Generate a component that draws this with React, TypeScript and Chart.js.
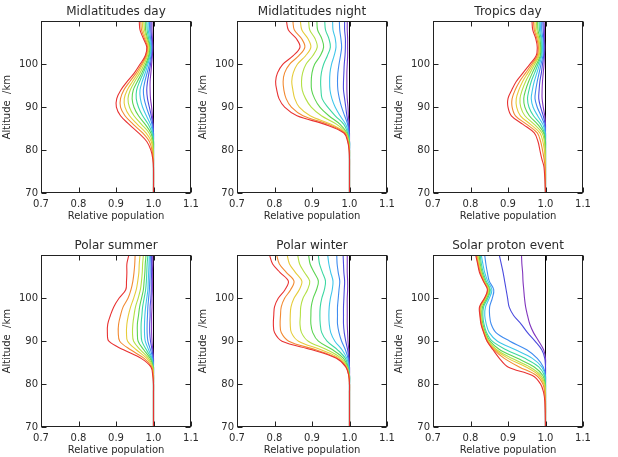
import React, { useEffect, useRef } from "react";
import { Chart, registerables } from "chart.js";

Chart.register(...registerables);

// ---------------- data ----------------
const ALTITUDES = [70, 76, 78, 80, 82, 84, 86, 88, 90, 92, 94, 96, 98, 100, 102, 104, 106, 108, 110];
const X_TICKS = [0.7, 0.8, 0.9, 1.0, 1.1];
const Y_TICKS = [70, 80, 90, 100];
const REFERENCE_VALUE = 1.0;
const X_LABEL = "Relative population";
const Y_LABEL = "Altitude  /km";

const CURVE_COLORS = [
  "#e83232", "#f28a32", "#e6cc3a", "#b4e046", "#5cd452",
  "#3ed8a2", "#40c6ea", "#3f8cf0", "#4a4ade", "#8236be",
];

const MIDLAT_DAY = [
  [1, 1, .998, .993, .982, .960, .935, .912, .901, .902, .913, .930, .949, .964, .978, .982, .973, .964, .962],
  [1, 1, .999, .996, .989, .971, .946, .924, .912, .912, .921, .937, .954, .968, .980, .984, .976, .968, .966],
  [1, 1, 1, .998, .994, .980, .957, .936, .924, .922, .930, .944, .959, .971, .982, .986, .979, .972, .970],
  [1, 1, 1, .999, .997, .988, .968, .948, .936, .932, .938, .950, .964, .975, .984, .988, .982, .976, .974],
  [1, 1, 1, 1, .999, .993, .978, .960, .948, .943, .946, .957, .969, .979, .987, .990, .984, .979, .978],
  [1, 1, 1, 1, 1, .996, .986, .971, .960, .954, .955, .963, .973, .982, .989, .991, .987, .983, .982],
  [1, 1, 1, 1, 1, .998, .992, .981, .971, .965, .964, .970, .978, .985, .991, .993, .990, .986, .986],
  [1, 1, 1, 1, 1, .999, .996, .989, .981, .975, .973, .977, .983, .989, .993, .995, .992, .990, .989],
  [1, 1, 1, 1, 1, 1, .998, .994, .989, .984, .982, .984, .988, .992, .995, .996, .995, .993, .993],
  [1, 1, 1, 1, 1, 1, .999, .997, .995, .992, .991, .991, .993, .995, .997, .998, .997, .996, .996],
];

const MIDLAT_NIGHT = [
  [1, 1, 1, .999, .995, .985, .935, .860, .827, .812, .806, .803, .808, .822, .850, .868, .858, .837, .832],
  [1, 1, 1, .999, .996, .987, .943, .876, .845, .831, .825, .823, .827, .840, .865, .881, .872, .853, .849],
  [1, 1, 1, 1, .997, .989, .951, .895, .866, .854, .849, .846, .850, .861, .883, .897, .889, .873, .869],
  [1, 1, 1, 1, .998, .991, .966, .925, .898, .883, .874, .872, .875, .884, .902, .914, .908, .894, .891],
  [1, 1, 1, 1, .999, .993, .975, .945, .921, .907, .899, .898, .900, .907, .922, .931, .926, .915, .913],
  [1, 1, 1, 1, 1, .995, .985, .962, .942, .927, .924, .923, .925, .931, .941, .949, .945, .936, .934],
  [1, 1, 1, 1, 1, .997, .990, .975, .962, .953, .948, .947, .948, .952, .959, .964, .962, .956, .955],
  [1, 1, 1, 1, 1, .998, .995, .987, .979, .973, .969, .968, .969, .972, .976, .979, .977, .974, .973],
  [1, 1, 1, 1, 1, .999, .997, .993, .990, .987, .984, .984, .985, .986, .988, .989, .989, .987, .987],
  [1, 1, 1, 1, 1, 1, .999, .997, .996, .994, .993, .993, .993, .994, .995, .995, .995, .994, .994],
];

const TROPICS_DAY = [
  [1, .996, .990, .985, .980, .970, .940, .909, .900, .900, .910, .922, .940, .958, .975, .978, .974, .966, .964],
  [1, .999, .996, .992, .987, .978, .950, .920, .911, .911, .919, .931, .947, .963, .978, .981, .977, .970, .968],
  [1, 1, .999, .997, .993, .985, .960, .933, .923, .922, .929, .939, .953, .967, .981, .983, .980, .973, .972],
  [1, 1, 1, .999, .997, .991, .970, .945, .934, .932, .938, .947, .959, .971, .983, .985, .982, .977, .976],
  [1, 1, 1, 1, .999, .995, .979, .957, .945, .942, .947, .955, .965, .976, .986, .987, .985, .980, .979],
  [1, 1, 1, 1, 1, .997, .987, .968, .956, .952, .956, .962, .971, .980, .988, .989, .988, .984, .983],
  [1, 1, 1, 1, 1, .999, .993, .979, .967, .962, .965, .970, .977, .984, .990, .992, .990, .987, .986],
  [1, 1, 1, 1, 1, 1, .997, .988, .978, .972, .974, .978, .983, .988, .993, .994, .993, .990, .990],
  [1, 1, 1, 1, 1, 1, .999, .994, .987, .982, .983, .985, .989, .992, .995, .996, .995, .994, .993],
  [1, 1, 1, 1, 1, 1, 1, .998, .994, .991, .991, .992, .994, .996, .997, .998, .997, .997, .996],
];

const POLAR_SUMMER = [
  [1, 1, 1, 1, .998, .993, .967, .920, .881, .877, .878, .885, .894, .908, .926, .928, .929, .929, .934],
  [1, 1, 1, 1, .999, .995, .975, .939, .910, .906, .907, .912, .919, .932, .940, .945, .948, .950, .951],
  [1, 1, 1, 1, 1, .997, .982, .954, .931, .928, .929, .933, .939, .947, .954, .958, .961, .962, .964],
  [1, 1, 1, 1, 1, .998, .987, .965, .947, .944, .945, .948, .952, .959, .965, .968, .970, .971, .973],
  [1, 1, 1, 1, 1, .999, .991, .974, .959, .957, .957, .960, .963, .968, .973, .975, .977, .978, .980],
  [1, 1, 1, 1, 1, .999, .994, .981, .969, .967, .967, .969, .971, .975, .979, .981, .982, .983, .985],
  [1, 1, 1, 1, 1, 1, .996, .987, .978, .976, .976, .977, .979, .982, .985, .986, .987, .988, .989],
  [1, 1, 1, 1, 1, 1, .998, .992, .985, .983, .983, .984, .985, .987, .989, .990, .991, .991, .992],
  [1, 1, 1, 1, 1, 1, .999, .996, .992, .990, .990, .991, .991, .993, .994, .994, .995, .995, .995],
  [1, 1, 1, 1, 1, 1, 1, .998, .996, .995, .995, .995, .996, .996, .997, .997, .997, .998, .998],
];

const POLAR_WINTER = [
  [1, 1, 1, 1, .998, .990, .965, .900, .820, .800, .797, .798, .800, .810, .828, .837, .815, .795, .787],
  [1, 1, 1, 1, .998, .991, .968, .910, .838, .818, .815, .816, .818, .827, .843, .852, .832, .813, .806],
  [1, 1, 1, 1, .999, .992, .973, .924, .864, .845, .842, .842, .844, .852, .866, .873, .856, .840, .834],
  [1, 1, 1, 1, .999, .994, .978, .940, .890, .872, .868, .869, .870, .876, .888, .894, .880, .867, .862],
  [1, 1, 1, 1, 1, .995, .984, .955, .917, .902, .897, .897, .898, .903, .912, .917, .906, .895, .891],
  [1, 1, 1, 1, 1, .996, .989, .968, .940, .926, .922, .921, .922, .926, .933, .936, .928, .920, .917],
  [1, 1, 1, 1, 1, .998, .993, .980, .961, .950, .946, .945, .946, .949, .954, .956, .950, .945, .942],
  [1, 1, 1, 1, 1, .999, .996, .989, .979, .972, .968, .968, .968, .970, .972, .974, .970, .967, .966],
  [1, 1, 1, 1, 1, 1, .998, .995, .990, .986, .984, .984, .984, .985, .986, .987, .985, .984, .983],
  [1, 1, 1, 1, 1, 1, .999, .998, .996, .995, .994, .994, .994, .994, .995, .995, .994, .994, .994],
];

const SOLAR_PROTON = [
  [1, .998, .995, .987, .965, .900, .877, .860, .844, .835, .828, .825, .824, .837, .845, .834, .824, .819, .814],
  [1, 1, .998, .993, .976, .930, .890, .863, .845, .836, .829, .826, .825, .838, .846, .835, .826, .820, .816],
  [1, 1, .999, .996, .983, .948, .900, .866, .847, .837, .830, .827, .827, .839, .847, .836, .827, .822, .818],
  [1, 1, 1, .998, .988, .958, .910, .870, .849, .838, .831, .828, .829, .841, .849, .837, .829, .824, .820],
  [1, 1, 1, .999, .993, .970, .925, .878, .852, .840, .833, .830, .832, .843, .851, .839, .831, .826, .823],
  [1, 1, 1, 1, .997, .982, .945, .895, .858, .843, .836, .833, .835, .846, .853, .842, .834, .829, .826],
  [1, 1, 1, 1, .999, .990, .965, .920, .872, .850, .842, .838, .840, .850, .857, .846, .838, .833, .829],
  [1, 1, 1, 1, 1, .994, .978, .950, .905, .868, .855, .851, .851, .858, .862, .850, .845, .841, .838],
  [1, 1, 1, 1, 1, 1, .998, .990, .972, .952, .935, .915, .903, .899, .895, .891, .887, .882, .877],
  [1, 1, 1, 1, 1, 1, 1, .995, .982, .968, .958, .952, .947, .944, .942, .940, .939, .937, .936],
];

const PANEL_TITLES = [
  "Midlatitudes day", "Midlatitudes night", "Tropics day",
  "Polar summer", "Polar winter", "Solar proton event",
];
const PANEL_CURVES = [MIDLAT_DAY, MIDLAT_NIGHT, TROPICS_DAY, POLAR_SUMMER, POLAR_WINTER, SOLAR_PROTON];

// ---------------- layout ----------------
const FONT = "DejaVu Sans";
const TEXT_COLOR = "#2a2a2a";
const CANVAS_W = 232;
const CANVAS_H = 228;
const COL_LEFT = [0, 196, 392];
const ROW_TOP = [0, 234];

const framePlugin = {
  id: "frameTicks",
  afterDraw(chart: any) {
    const { ctx, chartArea: a, scales } = chart;
    const L = Math.round(a.left) + 0.5;
    const R = Math.round(a.right) - 0.5;
    const T = Math.round(a.top) + 0.5;
    const B = Math.round(a.bottom) - 0.5;
    ctx.save();
    ctx.strokeStyle = "#222";
    ctx.lineWidth = 1;
    ctx.strokeRect(L, T, R - L, B - T);
    ctx.beginPath();
    for (const t of scales.x.ticks) {
      const px = Math.round(scales.x.getPixelForValue(t.value)) + 0.5;
      ctx.moveTo(px, B);
      ctx.lineTo(px, B - 5);
      ctx.moveTo(px, T);
      ctx.lineTo(px, T + 5);
    }
    for (const t of scales.y.ticks) {
      const py = Math.round(scales.y.getPixelForValue(t.value)) + 0.5;
      ctx.moveTo(L, py);
      ctx.lineTo(L + 5, py);
      ctx.moveTo(R, py);
      ctx.lineTo(R - 5, py);
    }
    ctx.stroke();
    ctx.restore();
  },
};

function Panel({ title, curves, left, top }: { title: string; curves: number[][]; left: number; top: number }) {
  const ref = useRef<HTMLCanvasElement>(null);
  useEffect(() => {
    if (!ref.current) return;
    const datasets: any[] = curves.map((vals, i) => ({
      data: vals.map((v, j) => ({ x: v, y: ALTITUDES[j] })),
      borderColor: CURVE_COLORS[i],
      borderWidth: 1.1,
      pointRadius: 0,
      showLine: true,
      tension: 0.35,
      fill: false,
    }));
    datasets.push({
      data: [
        { x: REFERENCE_VALUE, y: ALTITUDES[0] },
        { x: REFERENCE_VALUE, y: ALTITUDES[ALTITUDES.length - 1] },
      ],
      borderColor: "#000",
      borderWidth: 1,
      pointRadius: 0,
      showLine: true,
      tension: 0,
      fill: false,
    });
    const font = { family: FONT, size: 10 };
    const chart = new Chart(ref.current, {
      type: "scatter",
      data: { datasets },
      plugins: [framePlugin],
      options: {
        responsive: false,
        animation: false,
        devicePixelRatio: 1,
        layout: { padding: 0 },
        events: [],
        plugins: {
          legend: { display: false },
          tooltip: { enabled: false },
          title: {
            display: true,
            text: title,
            color: TEXT_COLOR,
            font: { family: FONT, size: 12, weight: "normal" },
            padding: { top: 5, bottom: 2 },
          },
        },
        scales: {
          x: {
            type: "linear",
            position: "bottom",
            min: 0.7,
            max: 1.1,
            afterBuildTicks: (s: any) => {
              s.ticks = X_TICKS.map((v) => ({ value: v }));
            },
            afterFit: (s: any) => {
              s.height = 35;
            },
            grid: { display: false, drawTicks: false },
            border: { display: false },
            ticks: {
              font,
              color: TEXT_COLOR,
              padding: 5,
              maxRotation: 0,
              autoSkip: false,
              callback: (v: any) => Number(v).toFixed(1),
            },
            title: {
              display: true,
              text: X_LABEL,
              color: TEXT_COLOR,
              font,
              padding: { top: 0, bottom: 6 },
            },
          },
          y: {
            type: "linear",
            position: "left",
            min: 70,
            max: 110,
            afterBuildTicks: (s: any) => {
              s.ticks = Y_TICKS.map((v) => ({ value: v }));
            },
            afterFit: (s: any) => {
              s.width = 41;
            },
            grid: { display: false, drawTicks: false },
            border: { display: false },
            ticks: { font, color: TEXT_COLOR, padding: 3, callback: (v: any) => String(v) },
            title: {
              display: true,
              text: Y_LABEL,
              color: TEXT_COLOR,
              font,
              padding: { top: 1, bottom: 0 },
            },
          },
          y2: {
            type: "linear",
            position: "right",
            min: 70,
            max: 110,
            afterFit: (s: any) => {
              s.width = 41;
            },
            grid: { display: false, drawTicks: false },
            border: { display: false },
            ticks: { display: false },
          },
        },
      } as any,
    });
    return () => chart.destroy();
  }, [title, curves]);
  return (
    <canvas
      ref={ref}
      width={CANVAS_W}
      height={CANVAS_H}
      style={{ position: "absolute", left, top, width: CANVAS_W, height: CANVAS_H }}
    />
  );
}

export default function App() {
  return (
    <div
      style={{
        position: "absolute",
        left: 0,
        top: 0,
        width: 618,
        height: 457,
        overflow: "hidden",
        background: "#fff",
      }}
    >
      {PANEL_TITLES.map((t, i) => (
        <Panel
          key={t}
          title={t}
          curves={PANEL_CURVES[i]}
          left={COL_LEFT[i % 3]}
          top={ROW_TOP[Math.floor(i / 3)]}
        />
      ))}
    </div>
  );
}
